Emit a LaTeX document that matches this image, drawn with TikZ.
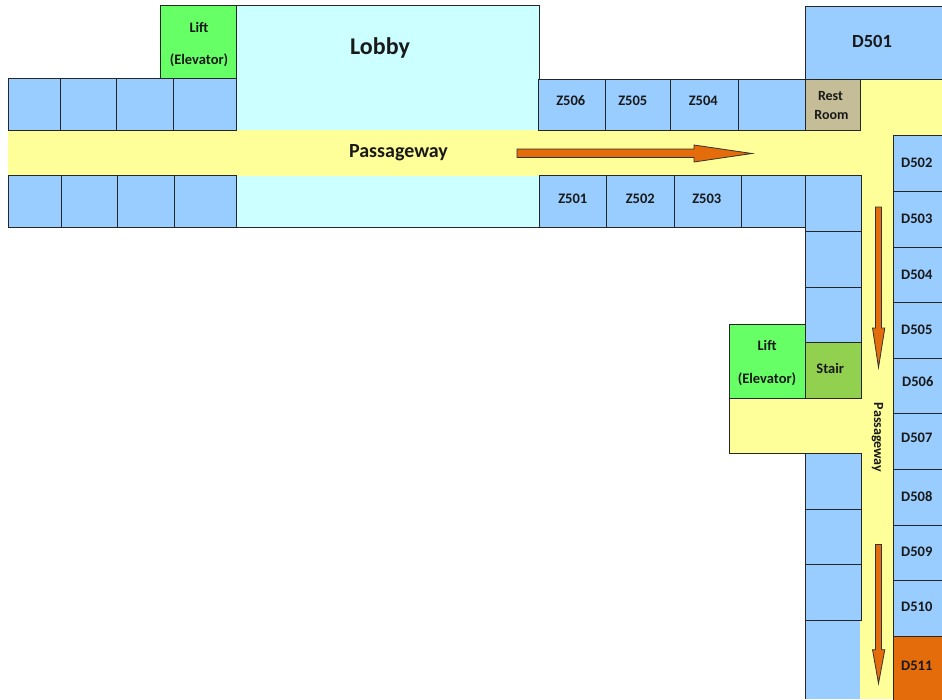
\documentclass[tikz,border=0pt]{standalone}
\usepackage{fontspec}
\setmainfont{Carlito}

\definecolor{roomblue}{HTML}{99CCFF}
\definecolor{passyellow}{HTML}{FFFF99}
\definecolor{lobbycyan}{HTML}{CCFFFF}
\definecolor{liftgreen}{HTML}{66FF66}
\definecolor{stairgreen}{HTML}{92D050}
\definecolor{resttan}{HTML}{C4BD97}
\definecolor{arroworange}{HTML}{E46C0A}

\tikzset{
  wall/.style={draw=black!85, line width=1pt},
  room/.style={wall, fill=roomblue},
  arrowshape/.style={draw=black!80, line width=0.8pt, fill=arroworange, line join=miter},
  roomtext/.style={font=\bfseries\fontsize{14.5}{16}\selectfont, inner sep=0pt, text=black!90},
  smalltext/.style={roomtext, font=\bfseries\fontsize{14}{16}\selectfont},
}

\begin{document}
\begin{tikzpicture}[x=1pt, y=-1pt]
  \useasboundingbox (0,0) rectangle (942,699);

  % Floors
  \fill [passyellow] (8,130) rectangle (860,175.5);
  \fill [passyellow] (860,79) rectangle (942,136);
  \fill [passyellow] (860,79) rectangle (893.5,699);
  \fill [lobbycyan] (236,5) rectangle (539,130);
  \fill [lobbycyan] (236,175.5) rectangle (539,227);

  % Walls with nothing attached
  \draw [wall] (236,5) -- (539.5,5) -- (539.5,79);
  \draw [wall] (236,227) -- (539,227);
  \draw [wall, fill=passyellow] (805,398) -- (729.5,398) -- (729.5,453.5) -- (805,453.5);
  \fill [passyellow] (730,398.5) rectangle (861,453);
  \fill [roomblue] (805,620) rectangle (860,699);
  \draw [wall] (805,620) -- (805,699);

  % Rooms without text
  \foreach \xa/\ya/\xb/\yb in {
    8/78.5/60/130, 60/78.5/116/130, 116/78.5/173.5/130, 173.5/78.5/236/130,
    8.5/175.5/61/227, 61/175.5/117/227, 117/175.5/174.5/227, 174.5/175.5/236/227,
    738/79/805/130, 741.5/175.5/805/227,
    805/175/861.5/231, 805/231/861.5/287, 805/287/861.5/342,
    805/453.5/861.5/509, 805/509/861.5/564.5, 805/564.5/861.5/620}{
    \draw [room] (\xa,\ya) rectangle (\xb,\yb);
  }

  % Rooms with text
  \foreach \xa/\ya/\xb/\yb/\rname in {
    538.5/79/605/130/z506, 605/79/670.5/130/z505, 670.5/79/738/130/z504,
    539/175.5/606.5/227/z501, 606.5/175.5/674/227/z502, 674/175.5/741.5/227/z503,
    893.5/135.5/942/191/d502, 893.5/191/942/247/d503, 893.5/247/942/302/d504,
    893.5/302/942/358/d505, 893.5/358/942/413.5/d506, 893.5/413.5/942/469/d507,
    893.5/469/942/525/d508, 893.5/525/942/580.5/d509, 893.5/580.5/942/636/d510}{
    \draw [room] (\xa,\ya) rectangle (\xb,\yb) coordinate [midway] (\rname);
  }
  \draw [room] (805,6) rectangle (942,79) coordinate [midway] (d501);
  \draw [wall, fill=arroworange] (893.5,636) rectangle (942,700) coordinate [midway] (d511);
  \draw [wall, fill=resttan] (805,79) rectangle (860.5,130) coordinate [midway] (rest);
  \draw [wall, fill=stairgreen] (805,342) rectangle (861.5,398) coordinate [midway] (stair);
  \draw [wall, fill=liftgreen] (160.5,5) rectangle (236,78.5) coordinate [midway] (liftA);
  \draw [wall, fill=liftgreen] (729.5,324) rectangle (805,398) coordinate [midway] (liftB);

  % Direction arrows
  \draw [arrowshape] (517,149) -- (694,149) -- (694,145) -- (752,153.5) -- (694,162) -- (694,157.5) -- (517,157.5) -- cycle;
  \foreach \ya/\yb/\yc in {207/328/367.5, 544.5/649.7/683.5}{
    \draw [arrowshape] (875.5,\ya) -- (881.5,\ya) -- (881.5,\yb) -- (884.8,\yb) -- (878.5,\yc) -- (872.5,\yb) -- (875.5,\yb) -- cycle;
  }

  % Room numbers
  \foreach \rname/\dx/\dy/\rtext in {
    z506/-1/-4/Z506, z505/-5/-4/Z505, z504/-1/-4/Z504,
    z501/0/-2/Z501, z502/0/-2/Z502, z503/-1/-2/Z503,
    d502/-1/0/D502, d503/-1/0/D503, d504/-1/0/D504, d505/-1/0/D505, d506/0/-4/D506,
    d507/-1/-3/D507, d508/-1/0/D508, d509/-1/-1/D509, d510/-1/-1/D510, d511/-1/-2/D511,
    stair/-3/-2/Stair}{
    \node [roomtext] (\rname text) at ([shift={(\dx pt,-\dy pt)}]\rname) {\rtext};
  }

  % Labels of more than a word
  \node [roomtext] (liftAtop) at (199,27) {Lift};
  \node [roomtext] (liftAbot) at (199,60.5) {(Elevator)};
  \node [roomtext] (liftBtop) at (767,345.5) {Lift};
  \node [roomtext] (liftBbot) at (767,379.5) {(Elevator)};
  \node [smalltext] (restA) at (830.5,96) {Rest};
  \node [smalltext] (restB) at (831.5,115) {Room};
  \node [roomtext, font=\bfseries\fontsize{24}{27}\selectfont] (lobby) at (380,48) {Lobby};
  \node [roomtext, font=\bfseries\fontsize{18.5}{21}\selectfont] (d501text) at (872,41) {D501};
  \node [roomtext, font=\bfseries\fontsize{20}{23}\selectfont] (passA) at (398.5,152.5) {Passageway};
  \node [smalltext, rotate=-90] (passB) at (877.5,437.5) {Passageway};
\end{tikzpicture}
\end{document}
